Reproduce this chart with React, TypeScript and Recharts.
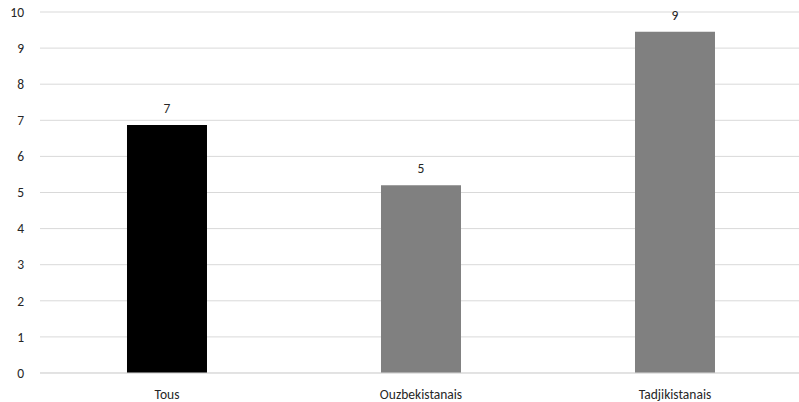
import React from "react";
import { BarChart, Bar, XAxis, YAxis, CartesianGrid, LabelList, Cell } from "recharts";

const categories = ["Tous", "Ouzbekistanais", "Tadjikistanais"];
const values = [6.87, 5.2, 9.45];
const colors = ["#000000", "#808080", "#808080"];
const yTicks = [0, 1, 2, 3, 4, 5, 6, 7, 8, 9, 10];

const data = categories.map((name, i) => ({ name, value: values[i] }));

const font = "Calibri, Carlito, 'Liberation Sans', Arial, sans-serif";

export default function App() {
  return (
    <div style={{ position: "absolute", left: 0, top: 0, background: "#fff", width: 799, height: 402, overflow: "hidden" }}>
      <BarChart
        width={802}
        height={402}
        data={data}
        margin={{ top: 12, right: 0, bottom: 9, left: 0 }}
        barCategoryGap="34.25%"
      >
        <CartesianGrid vertical={false} stroke="#d9d9d9" />
        <XAxis
          dataKey="name"
          height={20}
          tickLine={false}
          axisLine={{ stroke: "#d9d9d9" }}
          tick={{ fill: "#262626", fontSize: 13.5, fontFamily: font }}
          tickMargin={10}
        />
        <YAxis
          width={40}
          domain={[0, 10]}
          ticks={yTicks}
          interval={0}
          tickLine={false}
          axisLine={false}
          tickSize={0}
          tickMargin={16}
          tick={{ fill: "#262626", fontSize: 13.5, fontFamily: font }}
        />
        <Bar dataKey="value" isAnimationActive={false}>
          {data.map((d, i) => (
            <Cell key={d.name} fill={colors[i]} />
          ))}
          <LabelList
            dataKey="value"
            position="top"
            offset={12}
            formatter={(v: number) => Math.round(v)}
            style={{ fill: "#262626", fontSize: 13.5, fontFamily: font }}
          />
        </Bar>
      </BarChart>
    </div>
  );
}
